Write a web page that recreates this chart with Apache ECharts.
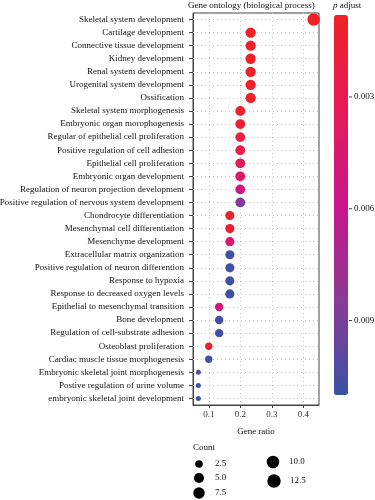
<!DOCTYPE html>
<html>
<head>
<meta charset="utf-8">
<script src="https://cdn.jsdelivr.net/npm/echarts@6/dist/echarts.min.js"></script>
<style>html,body{margin:0;padding:0;background:#fff}#c{width:375px;height:500px}</style>
</head>
<body>
<div id="c"></div>
<script>
const categories = ["Skeletal system development","Cartilage development","Connective tissue development","Kidney development","Renal system development","Urogenital system development","Ossification","Skeletal system morphogenesis","Embryonic organ morophogenesis","Regular of epithelial cell proliferation","Positive regulation of cell adhesion","Epithelial cell proliferation","Embryonic organ development","Regulation of neuron projection development","Positive regulation of nervous system development","Chondrocyte differentiation","Mesenchymal cell differentiation","Mesenchyme development","Extracellular matrix organization","Positive regulation of neuron differention","Response to hypoxia","Response to decreased oxygen levels","Epithelial to mesenchymal transition","Bone development","Regulation of cell-substrate adhesion","Osteoblast proliferation","Cardiac muscle tissue morphogenesis","Embryonic skeletal joint morphogenesis","Postive regulation of urine volume","embryonic skeletal joint development"];
const geneRatio = [0.433,0.233,0.233,0.233,0.233,0.233,0.233,0.2,0.2,0.2,0.2,0.2,0.2,0.2,0.2,0.167,0.167,0.167,0.167,0.167,0.167,0.167,0.133,0.133,0.133,0.1,0.1,0.067,0.067,0.067];
const counts = [13,7,7,7,7,7,7,6,6,6,6,6,6,6,6,5,5,5,5,5,5,5,4,4,4,3,3,2,2,2];
const pAdjust = [0.0008,0.001,0.001,0.001,0.001,0.001,0.001,0.0012,0.0014,0.0022,0.0028,0.0036,0.0042,0.0052,0.0088,0.0012,0.0014,0.0045,0.0108,0.0108,0.0108,0.0108,0.005,0.0108,0.0108,0.001,0.0106,0.0098,0.011,0.011];
const xTicks = [0.1,0.2,0.3,0.4];
const pTicks = [0.003,0.006,0.009];
const countLegend = [2.5,5.0,7.5,10.0,12.5];

const FONT = '"Liberation Serif", "DejaVu Serif", serif';
const TXT = '#111';
const pMin = 0.0008, pMax = 0.011;
const cMin = 2, cMax = 13;
function dotSize(c){
  const t = (Math.sqrt(c) - Math.sqrt(cMin)) / (Math.sqrt(cMax) - Math.sqrt(cMin));
  return 5 + 7.5 * Math.pow(Math.max(t,0), 0.6);
}
const data = categories.map((c,i)=>[geneRatio[i], c, pAdjust[i], counts[i]]);

const cbLeft = 334, cbTop = 15, cbW = 14, cbH = 380;
const graphics = [];
graphics.push({type:'text', left:188, top:1, style:{text:'Gene ontology (biological process)', font:'9px '+FONT, fill:TXT}});
graphics.push({type:'text', left:333, top:1, style:{text:'{i|p} adjust', rich:{i:{fontStyle:'italic', fontFamily:FONT, fontSize:9}}, font:'9px '+FONT, fill:TXT}});
pTicks.forEach(v=>{
  const y = cbTop + (v - pMin)/(pMax - pMin)*cbH;
  graphics.push({type:'line', shape:{x1:cbLeft+cbW+1, y1:y, x2:cbLeft+cbW+4, y2:y}, style:{stroke:'#444', lineWidth:1}});
  graphics.push({type:'text', x:cbLeft+cbW+6, y:y, style:{text:v.toFixed(3), font:'9px '+FONT, fill:TXT, verticalAlign:'middle'}});
});
graphics.push({type:'text', left:193, top:443, style:{text:'Count', font:'9px '+FONT, fill:TXT}});
const legPos = [[199,464],[199,478],[199,493],[273,462],[274,481]];
countLegend.forEach((v,i)=>{
  const [x,y] = legPos[i];
  const r = dotSize(v)/2 + 0.5;
  graphics.push({type:'circle', shape:{cx:x, cy:y, r:r}, style:{fill:'#000'}});
  graphics.push({type:'text', x:x+16, y:y, style:{text:v.toFixed(1), font:'9px '+FONT, fill:TXT, verticalAlign:'middle'}});
});

const chart = echarts.init(document.getElementById('c'), null, {renderer:'canvas'});
chart.setOption({
  animation:false,
  backgroundColor:'#fff',
  textStyle:{fontFamily:FONT},
  grid:{left:193, top:13, width:126, height:392, show:true, borderColor:'#444', borderWidth:1, backgroundColor:'transparent', containLabel:false, outerBoundsMode:'none'},
  xAxis:{
    type:'value', min:0.05, max:0.45, interval:0.05,
    name:'Gene ratio', nameLocation:'middle', nameGap:22,
    nameTextStyle:{fontFamily:FONT, fontSize:9, color:TXT},
    axisLine:{show:true, lineStyle:{color:'#444'}},
    axisTick:{show:true, length:3, lineStyle:{color:'#444'}, customValues:xTicks},
    axisLabel:{fontFamily:FONT, fontSize:9, color:'#333', margin:5, customValues:xTicks,
      formatter:v=> xTicks.some(t=>Math.abs(t-v)<1e-9) ? v.toFixed(1) : ''},
    splitLine:{show:true, lineStyle:{color:'#c8c8c8', type:[1,3], width:1}}
  },
  yAxis:{
    type:'category', data:categories, inverse:true, boundaryGap:true,
    axisLine:{show:true, lineStyle:{color:'#444'}},
    axisTick:{show:true, alignWithLabel:true, length:4, lineStyle:{color:'#444'}},
    axisLabel:{fontFamily:FONT, fontSize:9, color:TXT, margin:9, interval:0},
    splitLine:{show:false}
  },
  visualMap:{
    type:'continuous', min:pMin, max:pMax, dimension:2, seriesIndex:0,
    inverse:true, orient:'vertical', left:cbLeft, top:cbTop, itemWidth:cbW, itemHeight:cbH,
    padding:0, calculable:false, showLabel:false, text:null, realtime:false,
    inRange:{color:['#EE2225','#E51B58','#C8168B','#8B3A97','#3A53A4']}
  },
  series:[{
    type:'scatter', data:data, encode:{x:0, y:1},
    symbolSize:v=>dotSize(v[3]), z:3,
    itemStyle:{opacity:1},
    markLine:{silent:true, symbol:['none','none'], z:1, label:{show:false}, animation:false,
      lineStyle:{color:'#c8c8c8', type:[1,3], width:1},
      data:categories.map(c=>({yAxis:c}))}
  }],
  graphic:graphics
});
</script>
</body>
</html>
